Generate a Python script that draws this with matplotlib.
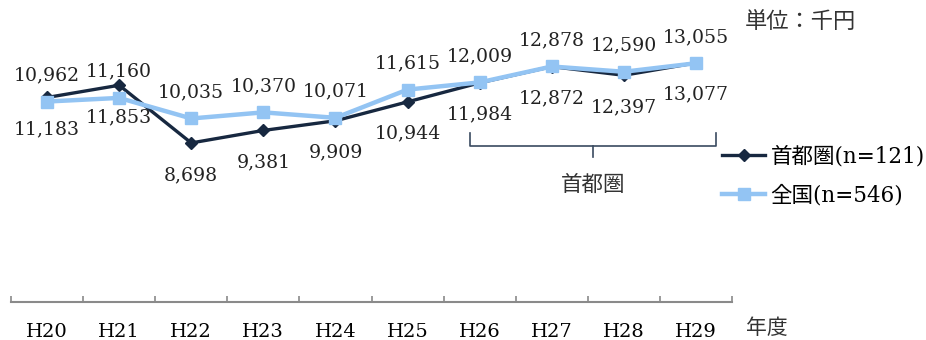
import matplotlib
matplotlib.use('Agg')
import numpy as np
import matplotlib.pyplot as plt

# data
years = ['H20', 'H21', 'H22', 'H23', 'H24', 'H25', 'H26', 'H27', 'H28', 'H29']
shutoken = [11183, 11853, 8698, 9381, 9909, 10944, 11984, 12872, 12397, 13077]
zenkoku = [10962, 11160, 10035, 10370, 10071, 11615, 12009, 12878, 12590, 13055]
label_shutoken = '首都圏(n=121)'
label_zenkoku = '全国(n=546)'

dark = '#172840'
light = '#93c4f3'
serif = ['DejaVu Serif', 'Noto Sans CJK JP']
cjk = ['Noto Sans CJK JP', 'DejaVu Serif']

fig = plt.figure(figsize=(9.26, 3.40), dpi=100)
ax = fig.add_axes([11 / 926, 38 / 340, 721 / 926, 292.6 / 340])

x = np.arange(len(years))
ax.plot(x, shutoken, color=dark, lw=2.4, marker='D', ms=6.5, label=label_shutoken, zorder=3)
ax.plot(x, zenkoku, color=light, lw=3.2, marker='s', ms=8, label=label_zenkoku, zorder=4)

# value labels: light above, dark below
for i in range(len(years)):
    ax.annotate(f'{zenkoku[i]:,}', (x[i], zenkoku[i]), xytext=(0, 19), textcoords='offset points',
                ha='center', va='center', fontsize=13.6, family=serif, color='#222222')
    ax.annotate(f'{shutoken[i]:,}', (x[i], shutoken[i]), xytext=(0, -23), textcoords='offset points',
                ha='center', va='center', fontsize=13.6, family=serif, color='#222222')

ax.set_xlim(-0.5, len(years) - 0.5)
ax.set_ylim(0, 16000)
for s in ['top', 'right', 'left']:
    ax.spines[s].set_visible(False)
ax.spines['bottom'].set_color('#8a8a8a')
ax.spines['bottom'].set_linewidth(1.5)
ax.set_yticks([])
ax.set_xticks(x)
ax.set_xticklabels(years, family=serif, fontsize=14)
ax.tick_params(axis='x', which='major', length=0, pad=15)
ax.set_xticks(np.arange(-0.5, len(years)), minor=True)
ax.tick_params(axis='x', which='minor', direction='in', length=4.5, width=1.2, color='#8a8a8a')

# bracket for shutoken period
y_top, y_mid, y_tip = 9240, 8529, 7928
xl, xr, xc = 5.87, 9.28, 7.57
ax.plot([xl, xl, xr, xr], [y_top, y_mid, y_mid, y_top], color='#3a4a60', lw=1.2, clip_on=False)
ax.plot([xc, xc], [y_mid, y_tip], color='#3a4a60', lw=1.2, clip_on=False)
ax.text(xc, 6380, '首都圏', ha='center', va='center', fontsize=15.5, family=cjk, color='#333333')

fig.text(745 / 926, 1 - 22 / 340, '単位：千円', ha='left', va='center', fontsize=16, family=cjk, color='#333333')
fig.text(746 / 926, 1 - 328 / 340, '年度', ha='left', va='center', fontsize=15, family=cjk, color='#333333')

fig.legend(loc='upper left', bbox_to_anchor=(722 / 926, 1 - 146 / 340), frameon=False,
           prop={'family': serif, 'size': 15.5}, handlelength=2.0, handletextpad=0.25,
           labelspacing=0.75, borderaxespad=0, borderpad=0)

plt.savefig('out.png', dpi=100)
plt.close()
